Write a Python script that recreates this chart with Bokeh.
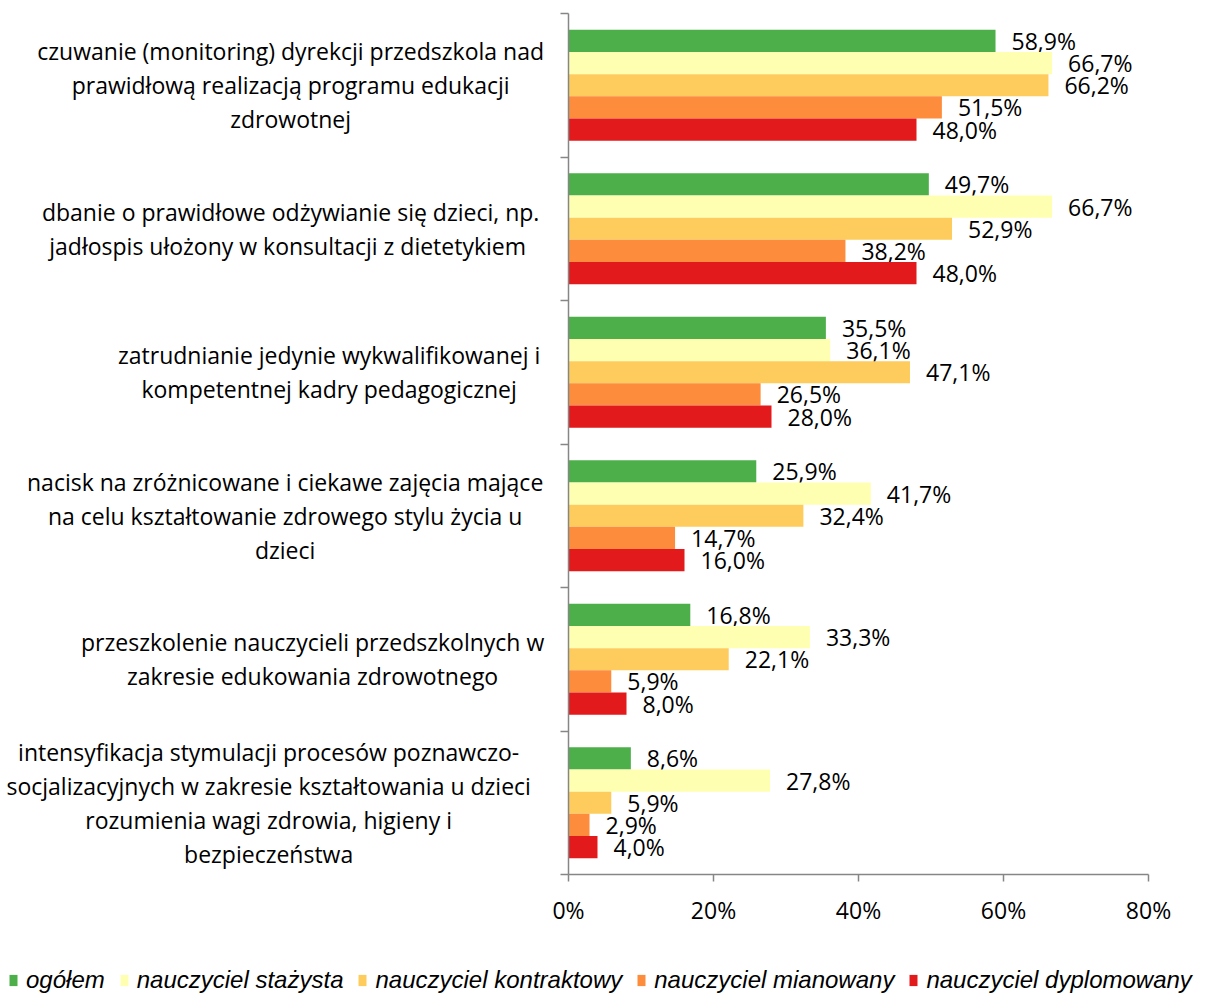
from bokeh.plotting import figure
from bokeh.layouts import column, row
from bokeh.models import ColumnDataSource, Range1d, FixedTicker, Legend, LegendItem
from bokeh.core.properties import value
from bokeh.embed import file_html
from bokeh.resources import INLINE

# Survey answers (percent of respondents), top category first
categories = [
    "czuwanie (monitoring) dyrekcji przedszkola nad\nprawidłową realizacją programu edukacji\nzdrowotnej",
    "dbanie o prawidłowe odżywianie się dzieci, np.\njadłospis  ułożony w konsultacji z dietetykiem",
    "zatrudnianie jedynie wykwalifikowanej i\nkompetentnej kadry pedagogicznej",
    "nacisk na zróżnicowane i ciekawe zajęcia mające\nna celu kształtowanie zdrowego stylu życia u\ndzieci",
    "przeszkolenie nauczycieli przedszkolnych w\nzakresie edukowania zdrowotnego",
    "intensyfikacja stymulacji procesów poznawczo-\nsocjalizacyjnych w zakresie kształtowania u dzieci\nrozumienia wagi zdrowia, higieny i\nbezpieczeństwa",
]
series_names = ["ogółem", "nauczyciel stażysta", "nauczyciel kontraktowy",
                "nauczyciel mianowany", "nauczyciel dyplomowany"]
ogolem = [58.9, 49.7, 35.5, 25.9, 16.8, 8.6]
stazysta = [66.7, 66.7, 36.1, 41.7, 33.3, 27.8]
kontraktowy = [66.2, 52.9, 47.1, 32.4, 22.1, 5.9]
mianowany = [51.5, 38.2, 26.5, 14.7, 5.9, 2.9]
dyplomowany = [48.0, 48.0, 28.0, 16.0, 8.0, 4.0]
x_ticks = [0, 20, 40, 60, 80]

series_values = [ogolem, stazysta, kontraktowy, mianowany, dyplomowany]
colors = ["#4DAF4A", "#FFFFB2", "#FECC5C", "#FD8D3C", "#E31A1C"]

NUM_FONT = "Open Sans"
CAT_FONT = "Open Sans"
AXIS_GRAY = "#868686"

n_cat = len(categories)
n_ser = len(series_names)
bar_h = 0.155

TOTAL_W = 1206
LABEL_W = 548          # caption panel on the left
CHART_H = 934
LEGEND_H = 994 - CHART_H
TOP, BOTTOM = 13, 60

y_range = Range1d(n_cat, 0)


def bare(fig):
    fig.outline_line_color = None
    fig.xgrid.visible = False
    fig.ygrid.visible = False
    fig.background_fill_color = "white"
    fig.border_fill_color = "white"
    return fig


# ---- main bar chart ----
p = bare(figure(width=TOTAL_W - LABEL_W, height=CHART_H,
                x_range=Range1d(0, x_ticks[-1]), y_range=y_range,
                output_backend="svg", toolbar_location=None,
                min_border_left=20, min_border_right=58,
                min_border_top=TOP, min_border_bottom=BOTTOM))

renderers = []
for j, (name, vals, col) in enumerate(zip(series_names, series_values, colors)):
    ys = [i + 0.5 + (j - (n_ser - 1) / 2) * bar_h for i in range(n_cat)]
    src = ColumnDataSource(dict(
        y=ys, v=vals,
        txt=[f"{v:.1f}".replace(".", ",") + "%" for v in vals],
    ))
    r = p.hbar(y="y", left=0, right="v", height=bar_h, source=src,
               fill_color=col, line_color=None)
    renderers.append(r)
    p.text(x="v", y="y", text="txt", source=src, x_offset=16,
           text_align="left", text_baseline="middle",
           text_font=value(NUM_FONT), text_font_size="23px", text_color="black")

p.xaxis.ticker = FixedTicker(ticks=x_ticks)
p.xaxis.major_label_overrides = {t: f"{t}%" for t in x_ticks}
p.xaxis.axis_line_color = AXIS_GRAY
p.xaxis.axis_line_width = 1.5
p.xaxis.major_tick_line_color = AXIS_GRAY
p.xaxis.major_tick_line_width = 1.5
p.xaxis.major_tick_out = 7
p.xaxis.major_tick_in = 0
p.xaxis.minor_tick_line_color = None
p.xaxis.major_label_text_font = NUM_FONT
p.xaxis.major_label_text_font_size = "23px"
p.xaxis.major_label_text_color = "black"
p.xaxis.major_label_standoff = 12

# y axis carries only the category separator ticks
p.yaxis.ticker = FixedTicker(ticks=list(range(n_cat + 1)))
p.yaxis.major_label_overrides = {i: "" for i in range(n_cat + 1)}
p.yaxis.major_label_standoff = 0
p.yaxis.axis_line_color = AXIS_GRAY
p.yaxis.axis_line_width = 1.5
p.yaxis.major_tick_line_color = AXIS_GRAY
p.yaxis.major_tick_line_width = 1.5
p.yaxis.major_tick_out = 8
p.yaxis.major_tick_in = 0
p.yaxis.minor_tick_line_color = None

# ---- category captions, lines centred inside each block ----
cap = bare(figure(width=LABEL_W, height=CHART_H,
                  x_range=Range1d(0, LABEL_W), y_range=y_range,
                  x_axis_type=None, y_axis_type=None,
                  output_backend="svg", toolbar_location=None,
                  min_border_left=0, min_border_right=0,
                  min_border_top=TOP, min_border_bottom=BOTTOM))
cat_size = 23
right_edge = LABEL_W - 5
cap_x = []
for cat in categories:
    longest = max(len(line) for line in cat.split("\n"))
    cap_x.append(right_edge - longest * 0.478 * cat_size / 2)
cap.text(x=cap_x, y=[i + 0.5 for i in range(n_cat)], text=categories,
         text_align="center", text_baseline="middle",
         text_font=value(CAT_FONT), text_font_size=f"{cat_size}px",
         text_line_height=1.06, text_color="black")

# ---- legend strip ----
leg = bare(figure(width=TOTAL_W, height=LEGEND_H,
                  x_range=Range1d(0, 1), y_range=Range1d(0, 1),
                  x_axis_type=None, y_axis_type=None,
                  output_backend="svg", toolbar_location=None,
                  min_border=0))
# swatch renderers sit far outside the visible range; they only feed the legend
swatches = [leg.hbar(y=[50], left=[50], right=[51], height=1,
                     fill_color=c, line_color=None)
            for c in colors]
legend = Legend(
    items=[LegendItem(label=n, renderers=[r]) for n, r in zip(series_names, swatches)],
    orientation="horizontal", location=(8, 0),
    glyph_width=10, glyph_height=14, label_height=24, label_standoff=8, spacing=14,
    padding=0, margin=0, border_line_color=None, background_fill_alpha=0,
    label_text_font="Liberation Sans", label_text_font_style="italic",
    label_text_font_size="24px", label_text_color="black",
)
leg.add_layout(legend)

layout = column(row(cap, p), leg)
open("out.html", "w").write(file_html(layout, INLINE))
